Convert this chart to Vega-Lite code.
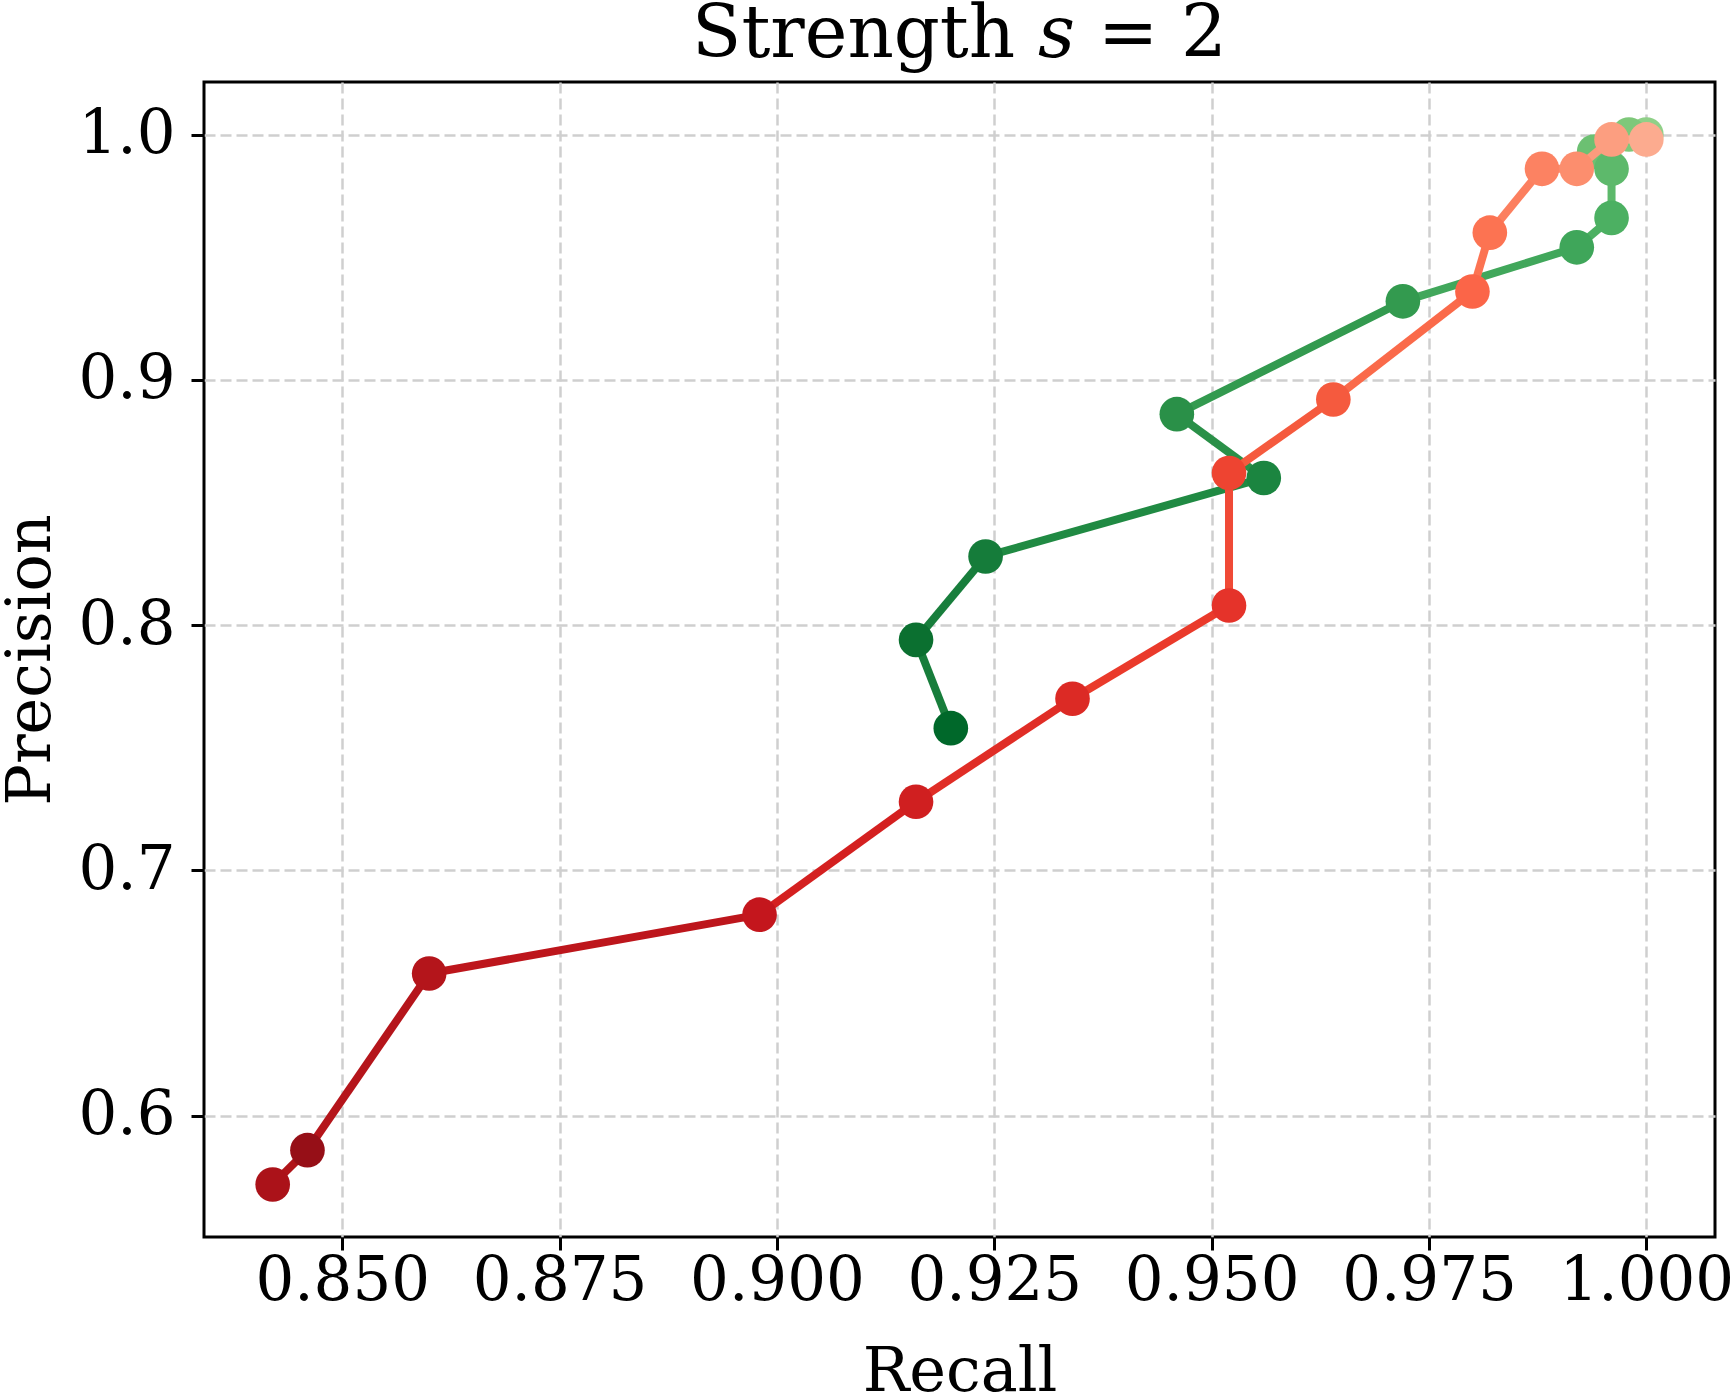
{
  "$schema": "https://vega.github.io/schema/vega-lite/v6.json",
  "width": 1511,
  "height": 1155,
  "autosize": {"type": "none"},
  "padding": {"left": 204, "top": 82, "right": 18, "bottom": 156},
  "background": "white",
  "title": {
    "text": "Strength 𝑠 = 2",
    "font": "DejaVu Serif",
    "fontSize": 72,
    "fontWeight": "normal",
    "color": "black",
    "anchor": "middle",
    "offset": 10
  },
  "config": {
    "view": {"stroke": "black", "strokeWidth": 3},
    "axis": {
      "labelFont": "DejaVu Serif",
      "titleFont": "DejaVu Serif",
      "labelFontSize": 61,
      "titleFontSize": 62,
      "labelColor": "black",
      "titleColor": "black",
      "titleFontWeight": "normal",
      "domain": false,
      "tickColor": "black",
      "tickWidth": 3,
      "tickSize": 13,
      "grid": true,
      "gridColor": "#cfcfcf",
      "gridWidth": 2.5,
      "gridDash": [11, 5]
    }
  },
  "data": {
    "values": [
      {"series": "green", "idx": 12, "id": "g12", "recall": 1.000, "precision": 1.000},
      {"series": "green", "idx": 11, "id": "g11", "recall": 0.998, "precision": 1.000},
      {"series": "green", "idx": 10, "id": "g10", "recall": 0.994, "precision": 0.993},
      {"series": "green", "idx": 9, "id": "g9", "recall": 0.996, "precision": 0.986},
      {"series": "green", "idx": 8, "id": "g8", "recall": 0.996, "precision": 0.966},
      {"series": "green", "idx": 7, "id": "g7", "recall": 0.992, "precision": 0.954},
      {"series": "green", "idx": 6, "id": "g6", "recall": 0.972, "precision": 0.932},
      {"series": "green", "idx": 5, "id": "g5", "recall": 0.946, "precision": 0.886},
      {"series": "green", "idx": 4, "id": "g4", "recall": 0.956, "precision": 0.860},
      {"series": "green", "idx": 3, "id": "g3", "recall": 0.924, "precision": 0.828},
      {"series": "green", "idx": 2, "id": "g2", "recall": 0.916, "precision": 0.794},
      {"series": "green", "idx": 1, "id": "g1", "recall": 0.920, "precision": 0.758},
      {"series": "red", "idx": 15, "id": "r15", "recall": 1.000, "precision": 0.998},
      {"series": "red", "idx": 14, "id": "r14", "recall": 0.996, "precision": 0.998},
      {"series": "red", "idx": 13, "id": "r13", "recall": 0.992, "precision": 0.986},
      {"series": "red", "idx": 12, "id": "r12", "recall": 0.988, "precision": 0.986},
      {"series": "red", "idx": 11, "id": "r11", "recall": 0.982, "precision": 0.960},
      {"series": "red", "idx": 10, "id": "r10", "recall": 0.980, "precision": 0.936},
      {"series": "red", "idx": 9, "id": "r9", "recall": 0.964, "precision": 0.892},
      {"series": "red", "idx": 8, "id": "r8", "recall": 0.952, "precision": 0.862},
      {"series": "red", "idx": 7, "id": "r7", "recall": 0.952, "precision": 0.808},
      {"series": "red", "idx": 6, "id": "r6", "recall": 0.934, "precision": 0.770},
      {"series": "red", "idx": 5, "id": "r5", "recall": 0.916, "precision": 0.728},
      {"series": "red", "idx": 4, "id": "r4", "recall": 0.898, "precision": 0.682},
      {"series": "red", "idx": 3, "id": "r3", "recall": 0.860, "precision": 0.658},
      {"series": "red", "idx": 2, "id": "r2", "recall": 0.846, "precision": 0.586},
      {"series": "red", "idx": 1, "id": "r1", "recall": 0.842, "precision": 0.572}
    ]
  },
  "encoding": {
    "x": {
      "field": "recall", "type": "quantitative",
      "scale": {"domain": [0.8341, 1.0079], "nice": false, "zero": false},
      "axis": {"title": "Recall", "values": [0.85, 0.875, 0.9, 0.925, 0.95, 0.975, 1.0], "format": ".3f", "labelPadding": 1, "titlePadding": 30, "labelFlush": false}
    },
    "y": {
      "field": "precision", "type": "quantitative",
      "scale": {"domain": [0.5506, 1.0214], "nice": false, "zero": false},
      "axis": {"title": "Precision", "values": [0.6, 0.7, 0.8, 0.9, 1.0], "format": ".1f", "labelPadding": 16, "titlePadding": 15, "labelFlush": false}
    }
  },
  "resolve": {"scale": {"color": "independent"}},
  "layer": [
    {
      "transform": [
        {"filter": "datum.series === 'green'"},
        {"window": [{"op": "lead", "field": "recall", "as": "recall2"}, {"op": "lead", "field": "precision", "as": "precision2"}], "groupby": ["series"], "sort": [{"field": "idx", "order": "ascending"}]},
        {"filter": "isValid(datum.recall2)"}
      ],
      "mark": {"type": "rule", "strokeWidth": 8, "strokeCap": "butt"},
      "encoding": {
        "x2": {"field": "recall2"},
        "y2": {"field": "precision2"},
        "color": {"field": "id", "type": "nominal", "legend": null,
          "scale": {"domain": ["g1","g2","g3","g4","g5","g6","g7","g8","g9","g10","g11"],
                    "range": ["#177d3b","#187e3c","#208a43","#2a9048","#339a4f","#41a75b","#4cb062","#5db96b","#6cc072","#7ec87a","#8fd088"]}}
      }
    },
    {
      "transform": [{"filter": "datum.series === 'green'"}],
      "mark": {"type": "point", "filled": true, "shape": "circle", "size": 1200, "opacity": 1},
      "encoding": {
        "color": {"field": "id", "type": "nominal", "legend": null,
          "scale": {"domain": ["g1","g2","g3","g4","g5","g6","g7","g8","g9","g10","g11","g12"],
                    "range": ["#00682a","#0b7030","#157c3a","#1b8540","#2a9048","#339a4f","#3fa65a","#4cb062","#5db96b","#6cc072","#7ec87a","#8fd088"]}}
      }
    },
    {
      "transform": [
        {"filter": "datum.series === 'red'"},
        {"window": [{"op": "lead", "field": "recall", "as": "recall2"}, {"op": "lead", "field": "precision", "as": "precision2"}], "groupby": ["series"], "sort": [{"field": "idx", "order": "ascending"}]},
        {"filter": "isValid(datum.recall2)"}
      ],
      "mark": {"type": "rule", "strokeWidth": 8, "strokeCap": "butt"},
      "encoding": {
        "x2": {"field": "recall2"},
        "y2": {"field": "precision2"},
        "color": {"field": "id", "type": "nominal", "legend": null,
          "scale": {"domain": ["r1","r2","r3","r4","r5","r6","r7","r8","r9","r10","r11","r12","r13","r14"],
                    "range": ["#b01419","#b5151b","#bd161c","#d42020","#e02d26","#ea3a2b","#f04a36","#f55a3e","#fa6a4a","#fc7352","#fc7f5f","#fc8c6c","#fc9b7d","#fcaa8d"]}}
      }
    },
    {
      "transform": [{"filter": "datum.series === 'red'"}],
      "mark": {"type": "point", "filled": true, "shape": "circle", "size": 1200, "opacity": 1},
      "encoding": {
        "color": {"field": "id", "type": "nominal", "legend": null,
          "scale": {"domain": ["r1","r2","r3","r4","r5","r6","r7","r8","r9","r10","r11","r12","r13","r14","r15"],
                    "range": ["#ab1219","#960f17","#b4151b","#c4161d","#d01f20","#dc2a25","#e5332a","#ee4431","#f55a3e","#fb6548","#fc7352","#fc8262","#fc8e6e","#fc9e80","#fcab8f"]}}
      }
    }
  ]
}
